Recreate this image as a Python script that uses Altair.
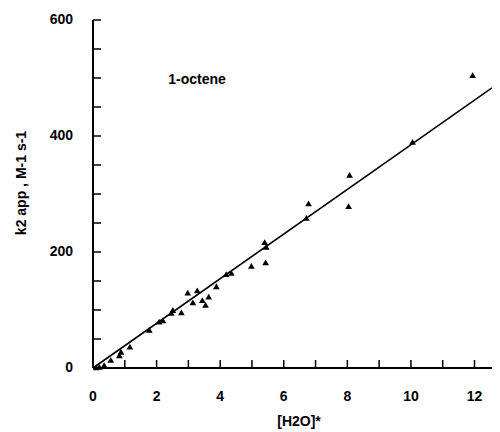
import altair as alt
import pandas as pd

# Data (1-octene)
h2o = [0.1, 0.2, 0.35, 0.56, 0.83, 0.88, 1.16, 1.77, 2.08, 2.2, 2.46, 2.51, 2.78,
       2.98, 3.14, 3.28, 3.44, 3.54, 3.64, 3.88, 4.19, 4.35, 4.98, 5.4, 5.43, 5.45,
       6.71, 6.78, 8.04, 8.07, 10.05, 11.94]
k2 = [1, 2, 5, 14, 22, 28, 37, 66, 80, 82, 95, 100, 96,
      130, 113, 134, 117, 109, 123, 141, 162, 164, 176, 217, 182, 209,
      259, 284, 279, 333, 390, 505]

fit_x = [0, 12.55]
fit_y = [0, 483]

x_labels = [0, 2, 4, 6, 8, 10, 12]
x_minor = list(range(0, 13))
y_labels = [0, 200, 400, 600]
y_minor = list(range(0, 601, 50))

x_title = "[H2O]*"
y_title = "k2 app , M-1 s-1"
series_label = "1-octene"

FONT = "Liberation Sans"
W, H = 399, 348

xscale = alt.Scale(domain=[0, 12.55], nice=False, zero=False)
yscale = alt.Scale(domain=[0, 600], nice=False)

# frame lines (axis domains)
xdomain = alt.Chart(pd.DataFrame({"d": [0]})).mark_rule(
    color="black", strokeWidth=2
).encode(x=alt.value(0), x2=alt.value(W), y=alt.value(H))
ydomain = alt.Chart(pd.DataFrame({"d": [0]})).mark_rule(
    color="black", strokeWidth=2
).encode(x=alt.value(0), y=alt.value(0), y2=alt.value(H))

# data
points = alt.Chart(pd.DataFrame({"x": h2o, "y": k2})).mark_point(
    shape="triangle-up", filled=True, color="black", size=45, opacity=1
).encode(
    x=alt.X("x:Q", scale=xscale, axis=None),
    y=alt.Y("y:Q", scale=yscale, axis=None),
)
line = alt.Chart(pd.DataFrame({"x": fit_x, "y": fit_y})).mark_line(
    color="black", strokeWidth=1.6
).encode(
    x=alt.X("x:Q", scale=xscale, axis=None),
    y=alt.Y("y:Q", scale=yscale, axis=None),
)

# inward ticks, drawn as line-shaped symbols on the axis baselines
xticks = alt.Chart(pd.DataFrame({"x": x_minor, "y": [0] * len(x_minor)})).mark_point(
    shape="M0,-1L0,0", filled=False, color="black", strokeWidth=1.5, size=256,
    opacity=1
).encode(
    x=alt.X("x:Q", scale=xscale, axis=None),
    y=alt.Y("y:Q", scale=yscale, axis=None),
)
yticks = alt.Chart(pd.DataFrame({"y": y_minor, "x": [0] * len(y_minor)})).mark_point(
    shape="M0,0L1,0", filled=False, color="black", strokeWidth=1.5, size=256,
    opacity=1
).encode(
    x=alt.X("x:Q", scale=xscale, axis=None),
    y=alt.Y("y:Q", scale=yscale, axis=None),
)

# tick labels
xlab = alt.Chart(pd.DataFrame({"v": x_labels, "t": [str(v) for v in x_labels]})).mark_text(
    font=FONT, fontSize=14, fontWeight="bold", color="black", baseline="middle"
).encode(x=alt.X("v:Q", scale=xscale, axis=None), y=alt.value(H + 29), text="t:N")
ylab = alt.Chart(pd.DataFrame({"v": y_labels, "t": [str(v) for v in y_labels]})).mark_text(
    font=FONT, fontSize=14, fontWeight="bold", color="black", baseline="middle",
    align="right"
).encode(y=alt.Y("v:Q", scale=yscale, axis=None), x=alt.value(-20), text="t:N")

# axis titles
xt = alt.Chart(pd.DataFrame({"t": [x_title]})).mark_text(
    font=FONT, fontSize=14, fontWeight="bold", color="black", baseline="middle"
).encode(x=alt.value(206), y=alt.value(H + 54), text="t:N")
yt = alt.Chart(pd.DataFrame({"t": [y_title]})).mark_text(
    font=FONT, fontSize=14, fontWeight="bold", color="black", baseline="middle",
    angle=270
).encode(x=alt.value(-71), y=alt.value(163), text="t:N")

label = alt.Chart(pd.DataFrame({"t": [series_label]})).mark_text(
    font=FONT, fontSize=14, fontWeight="bold", color="black", baseline="middle"
).encode(x=alt.value(104), y=alt.value(60), text="t:N")

chart = alt.layer(points, line, xticks, yticks, xdomain, ydomain, xlab, ylab,
                  xt, yt, label).properties(
    width=W, height=H,
    autosize=alt.AutoSizeParams(type="none"),
    padding={"left": 85, "top": 12, "right": 0, "bottom": 62},
    background="white",
).configure_view(stroke=None)

chart.save("out.html", embed_options={"renderer": "svg", "actions": False})
